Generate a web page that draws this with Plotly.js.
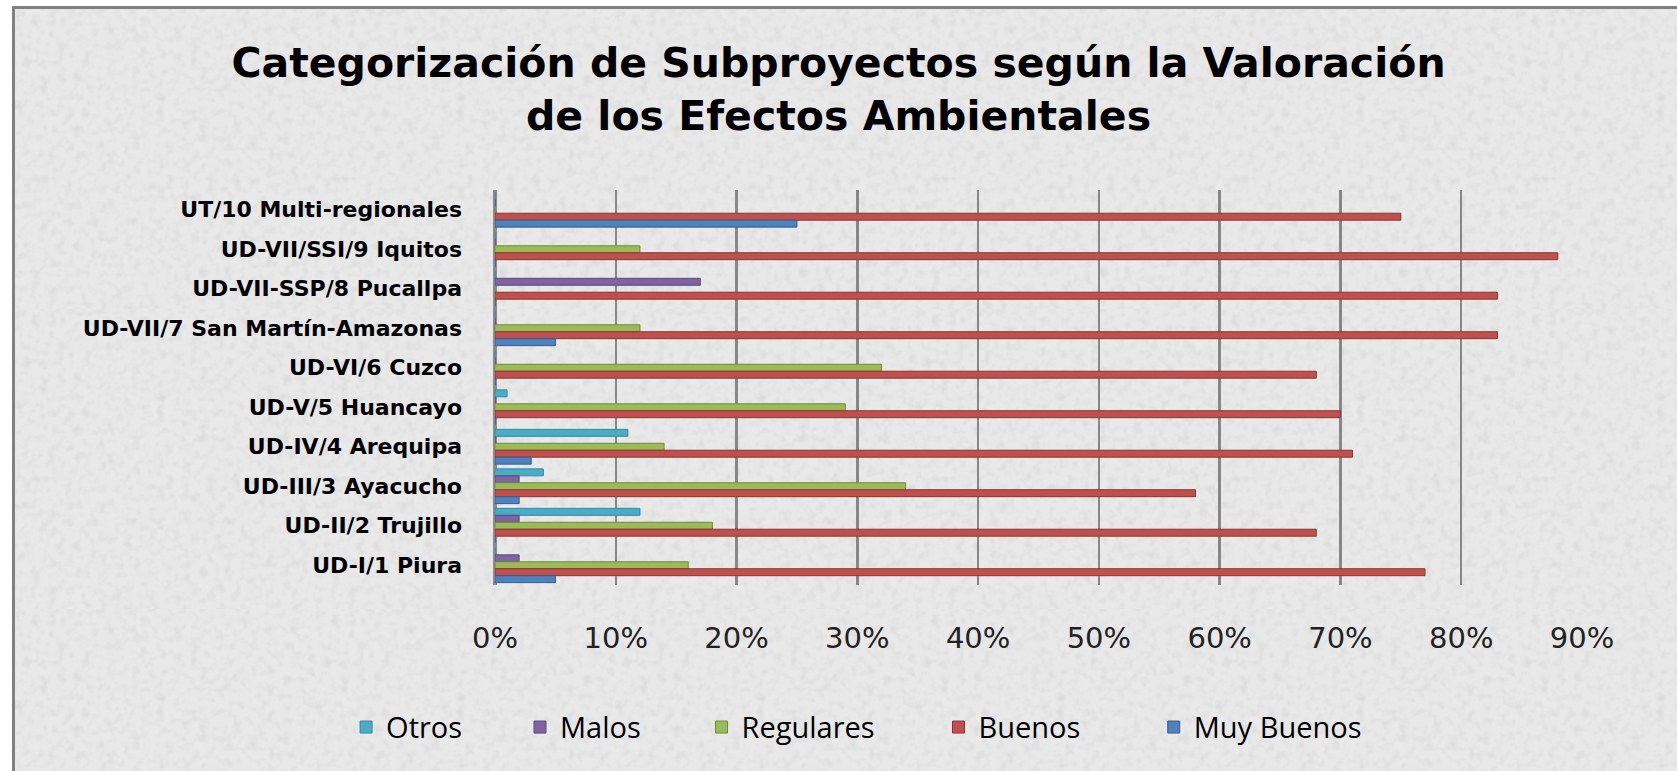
<!DOCTYPE html>
<html>
<head>
<meta charset="utf-8">
<script src="https://cdn.plot.ly/plotly-3.0.1.min.js"></script>
<style>
  html, body { margin: 0; padding: 0; background: #ffffff; }
  #wrap { position: relative; width: 1677px; height: 771px; overflow: hidden; background: #ffffff; }
  #frame { position: absolute; left: 12px; top: 6px; right: 0; bottom: 0;
           background-color: #e9e9e9;
           background-image: url("data:image/svg+xml;utf8,<svg xmlns='http://www.w3.org/2000/svg' width='300' height='300'><filter id='n'><feTurbulence type='fractalNoise' baseFrequency='0.12' numOctaves='2' stitchTiles='stitch'/><feColorMatrix type='matrix' values='0 0 0 0 0.55  0 0 0 0 0.55  0 0 0 0 0.55  0 0 0 -2.2 1.25'/></filter><rect width='300' height='300' filter='url(%23n)' opacity='0.35'/></svg>");
           border-left: 3px solid #808080; border-top: 3px solid #808080; }
  #chart { position: absolute; left: 0; top: 0; width: 1677px; height: 771px; }
</style>
</head>
<body>
<div id="wrap">
  <div id="frame"></div>
  <div id="chart"></div>
</div>
<script>
const categories = [
  'UT/10 Multi-regionales',
  'UD-VII/SSI/9 Iquitos',
  'UD-VII-SSP/8 Pucallpa',
  'UD-VII/7 San Martín-Amazonas',
  'UD-VI/6 Cuzco',
  'UD-V/5 Huancayo',
  'UD-IV/4 Arequipa',
  'UD-III/3 Ayacucho',
  'UD-II/2 Trujillo',
  'UD-I/1 Piura'
];
const otros     = [0, 0, 0, 0, 0, 1, 11, 4, 12, 0];
const malos     = [0, 0, 17, 0, 0, 0, 0, 2, 2, 2];
const regulares = [0, 12, 0, 12, 32, 29, 14, 34, 18, 16];
const buenos    = [75, 88, 83, 83, 68, 70, 71, 58, 68, 77];
const muyBuenos = [25, 0, 0, 5, 0, 0, 3, 2, 0, 5];
const xTickValues = [0, 10, 20, 30, 40, 50, 60, 70, 80, 90];
const xTickLabels = ['0%', '10%', '20%', '30%', '40%', '50%', '60%', '70%', '80%', '90%'];

const seriesNames = ['Otros', 'Malos', 'Regulares', 'Buenos', 'Muy Buenos'];
const seriesData = [otros, malos, regulares, buenos, muyBuenos];
const colors = ['#4BACC6', '#8064A2', '#9BBB59', '#C0504D', '#4F81BD'];
const edgeColors = ['#2E8AA3', '#5E4682', '#6E8C3A', '#8E3431', '#345E92'];
const legendIds = ['legend', 'legend2', 'legend3', 'legend4', 'legend5'];
// legend box left edges (paper fraction of plot width)
const legendX = [-0.137, 0.023, 0.19, 0.408, 0.606];

const traces = seriesNames.map((name, i) => ({
  type: 'bar',
  orientation: 'h',
  name: name,
  y: categories,
  x: seriesData[i],
  legend: legendIds[i],
  marker: { color: colors[i], line: { color: edgeColors[i], width: 1 } },
  hoverinfo: 'name+x'
}));

const layout = {
  width: 1677,
  height: 771,
  paper_bgcolor: 'rgba(0,0,0,0)',
  plot_bgcolor: 'rgba(0,0,0,0)',
  margin: { l: 495, r: 95, t: 190, b: 186 },
  barmode: 'group',
  bargap: 0.12,
  bargroupgap: 0.0,
  showlegend: true,
  title: {
    text: 'Categorización de Subproyectos según la Valoración<br>de los Efectos Ambientales',
    font: { family: 'DejaVu Sans', size: 41, color: '#000000', weight: 'bold' },
    x: 0.5, xref: 'container', xanchor: 'center',
    y: 0.90, yref: 'container', yanchor: 'bottom'
  },
  xaxis: {
    range: [0, 90],
    tickmode: 'array',
    tickvals: xTickValues,
    ticktext: xTickLabels,
    showgrid: true,
    gridcolor: '#878787',
    gridwidth: 2.5,
    zeroline: true,
    zerolinecolor: '#8a8a8a',
    zerolinewidth: 4,
    showline: false,
    ticks: '',
    ticklabelstandoff: 33,
    tickfont: { family: 'DejaVu Sans', size: 29, color: '#222222' },
    fixedrange: true
  },
  yaxis: {
    autorange: 'reversed',
    type: 'category',
    showgrid: false,
    zeroline: false,
    showline: false,
    ticks: '',
    ticklabelstandoff: 32,
    tickfont: { family: 'DejaVu Sans', size: 22, color: '#000000', weight: 'bold' },
    fixedrange: true
  }
};

legendIds.forEach((id, i) => {
  layout[id] = {
    orientation: 'h',
    x: legendX[i], xanchor: 'left',
    y: -0.36, yanchor: 'middle',
    font: { family: 'Open Sans', size: 29, color: '#000000' },
    bgcolor: 'rgba(0,0,0,0)',
    itemclick: false, itemdoubleclick: false
  };
});

Plotly.newPlot('chart', traces, layout, { displayModeBar: false, staticPlot: true });
</script>
</body>
</html>
